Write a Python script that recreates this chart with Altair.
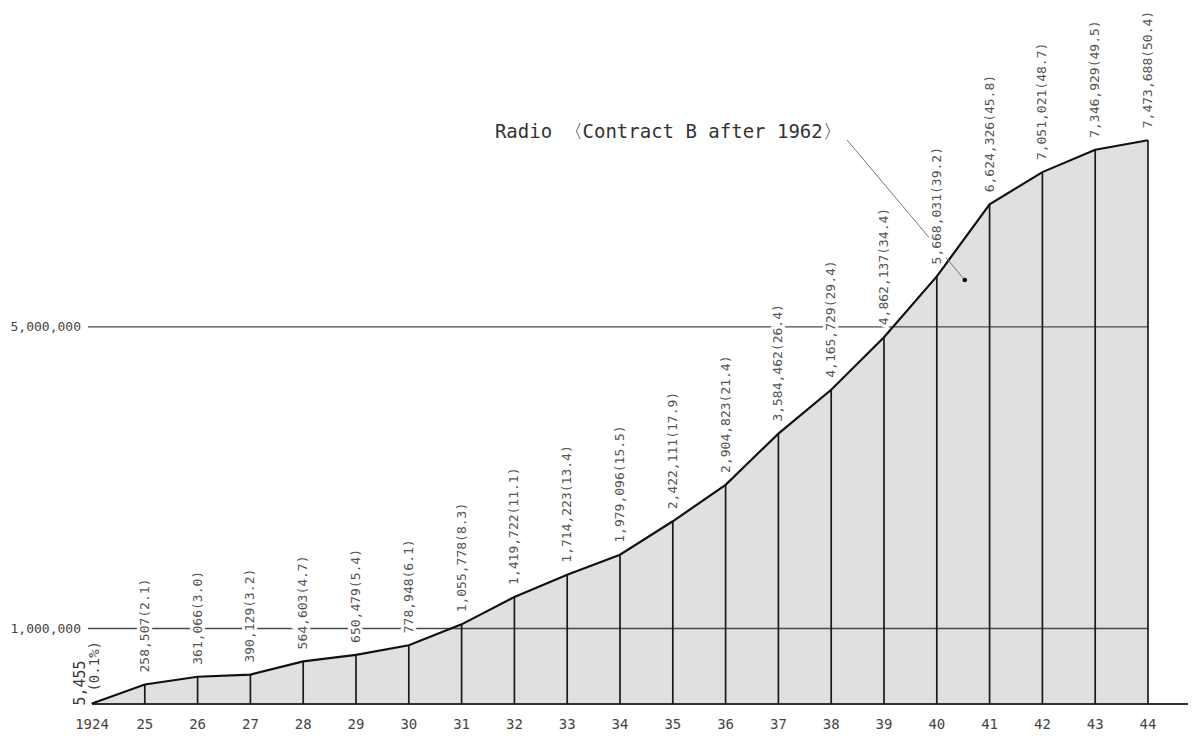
import altair as alt
import pandas as pd

# ---- data ----
years = list(range(1924, 1945))
year_labels = ["1924", "25", "26", "27", "28", "29", "30", "31", "32", "33", "34",
               "35", "36", "37", "38", "39", "40", "41", "42", "43", "44"]
subscribers = [5455, 258507, 361066, 390129, 564603, 650479, 778948, 1055778,
               1419722, 1714223, 1979096, 2422111, 2904823, 3584462, 4165729,
               4862137, 5668031, 6624326, 7051021, 7346929, 7473688]
percents = ["0.1%", "2.1", "3.0", "3.2", "4.7", "5.4", "6.1", "8.3", "11.1", "13.4",
            "15.5", "17.9", "21.4", "26.4", "29.4", "34.4", "39.2", "45.8", "48.7",
            "49.5", "50.4"]
grid_values = [1000000, 5000000]
grid_labels = ["1,000,000", "5,000,000"]
note_text = ["Radio 〈Contract B after 1962〉"]
note_year = [1938.2]
note_value = [7582000]
leader_years = [1938.3, 1940.53]
leader_values = [7477000, 5621000]

# ---- tables ----
W, H = 1056, 694
df = pd.DataFrame({"year": years, "value": subscribers, "zero": [0] * len(years),
                   "ylab": year_labels})
df["label"] = [f"{v:,}({p})" for v, p in zip(subscribers, percents)]
df_lab = df[df["year"] > 1924]
first = pd.DataFrame({"year": [years[0]], "value": [subscribers[0]],
                      "num": [f"{subscribers[0]:,}"], "pct": [f"({percents[0]})"]})
grid = pd.DataFrame({"value": grid_values, "label": grid_labels, "year": [1924, 1924]})
note = pd.DataFrame({"year": note_year, "value": note_value, "text": note_text})
leader = pd.DataFrame({"year": leader_years, "value": leader_values, "o": [0, 1]})
dot = leader.iloc[[1]]

xs = alt.Scale(domain=[1924, 1944], nice=False, zero=False)
ys = alt.Scale(domain=[0, 9200000], nice=False)
X = alt.X("year:Q", scale=xs, axis=None)
Y = alt.Y("value:Q", scale=ys, axis=None)
Y0 = alt.Y("zero:Q", scale=ys, axis=None)

MONO = "DejaVu Sans Mono"

base = alt.Chart(df)
area = base.mark_area(color="#e0e0e0").encode(x=X, y=Y)
gridlines = alt.Chart(grid).mark_rule(color="#4a4a4a", strokeWidth=1.4).encode(
    y=Y, x=alt.value(-4), x2=alt.value(W))
baseline = base.mark_rule(color="#333", strokeWidth=1.6).encode(
    y=Y0, x=alt.value(0), x2=alt.value(W + 44))
vrules = base.mark_rule(color="#1a1a1a", strokeWidth=1.7).encode(x=X, y=Y0, y2="value:Q")
outline = base.mark_line(color="#111", strokeWidth=2.2).encode(x=X, y=Y)
lead = alt.Chart(leader).mark_line(color="#777", strokeWidth=1).encode(x=X, y=Y, order="o:Q")
leaddot = alt.Chart(dot).mark_point(filled=True, color="#111", size=22, opacity=1).encode(x=X, y=Y)

label_kw = dict(angle=270, align="left", baseline="middle", dx=12, font=MONO, fontSize=13)
halo = alt.Chart(df_lab).mark_text(color="white", stroke="white", strokeWidth=6,
                                   **label_kw).encode(x=X, y=Y, text="label:N")
labels = alt.Chart(df_lab).mark_text(color="#555", **label_kw).encode(
    x=X, y=Y, text="label:N")

first_num = alt.Chart(first).mark_text(angle=270, align="left", baseline="middle",
                                       dx=-2, dy=-12, font=MONO, fontSize=15,
                                       color="#333").encode(x=X, y=Y, text="num:N")
first_pct = alt.Chart(first).mark_text(angle=270, align="left", baseline="middle",
                                       dx=12, dy=3, font=MONO, fontSize=14,
                                       color="#444").encode(x=X, y=Y, text="pct:N")

year_text = base.mark_text(baseline="middle", align="center", dy=21, dx=0, font=MONO,
                           fontSize=14, color="#444").encode(x=X, y=Y0, text="ylab:N")
ylab_text = alt.Chart(grid).mark_text(align="right", baseline="middle", dx=-11,
                                      font=MONO, fontSize=13, color="#444").encode(
    x=X, y=Y, text="label:N")
note_mark = alt.Chart(note).mark_text(align="right", baseline="middle", font=MONO,
                                      fontSize=19, color="#333").encode(
    x=X, y=Y, text="text:N")

chart = alt.layer(
    area, gridlines, baseline, vrules, outline, lead, leaddot,
    halo, labels, first_num, first_pct, year_text, ylab_text, note_mark
).properties(
    width=W, height=H,
    padding={"left": 84, "top": 2, "right": 40, "bottom": 32},
    autosize=alt.AutoSizeParams(type="none"),
).configure_view(stroke=None)

chart.save("out.html", embed_options={"renderer": "svg", "actions": False})
